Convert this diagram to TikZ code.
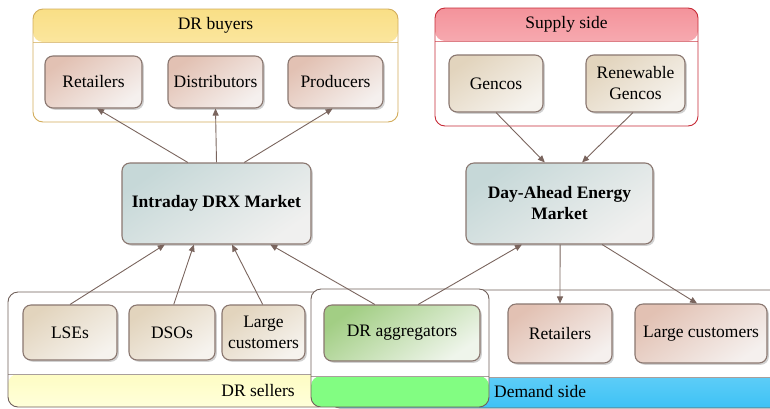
\documentclass[tikz,border=0pt]{standalone}
\usepackage{fontspec}
\setmainfont{Liberation Serif}
\usetikzlibrary{arrows.meta,calc,shadows}
\definecolor{buyerA}{HTML}{F9DF86}
\definecolor{buyerB}{HTML}{FFF6D6}
\definecolor{buyerline}{HTML}{D2AC5A}
\definecolor{supA}{HTML}{F4939B}
\definecolor{supB}{HTML}{FDE2E3}
\definecolor{supline}{HTML}{C62A36}
\definecolor{pinkA}{HTML}{E2C1B3}
\definecolor{pinkB}{HTML}{F5F0EE}
\definecolor{beigeA}{HTML}{E2D4BD}
\definecolor{beigeB}{HTML}{F6F3EE}
\definecolor{mktA}{HTML}{C6D8D8}
\definecolor{mktB}{HTML}{F0F0EF}
\definecolor{grnA}{HTML}{A2CE84}
\definecolor{grnB}{HTML}{EFF5EB}
\definecolor{ylwA}{HTML}{FCF78C}
\definecolor{ylwB}{HTML}{FFFFDA}
\definecolor{grnband}{HTML}{82FD82}
\definecolor{bluA}{HTML}{B6EBFF}
\definecolor{bluB}{HTML}{3EC2F5}
\definecolor{boxline}{HTML}{8A7770}
\definecolor{outline}{HTML}{6F5F59}
\definecolor{arrowc}{HTML}{7A655E}
\begin{document}
\begin{tikzpicture}[x=1pt,y=-1pt,
  font=\fontsize{17.5}{21}\selectfont,
  inbox/.style={draw=boxline, line width=1.1pt, rounded corners=8pt, align=center,
    inner sep=1pt, drop shadow={shadow xshift=1.8pt, shadow yshift=-1.8pt, opacity=0.18, fill=black}},
  pinkbox/.style={inbox, top color=pinkA, bottom color=pinkB, shading angle=35},
  beigebox/.style={inbox, top color=beigeA, bottom color=beigeB, shading angle=35},
  mktbox/.style={inbox, top color=mktA, bottom color=mktB, shading angle=35, font=\fontsize{17.5}{21}\selectfont\bfseries},
  grnbox/.style={inbox, top color=grnA, bottom color=grnB, shading angle=35},
  outerbox/.style={line width=0.9pt, rounded corners=10pt, fill=white, inner sep=0pt},
  conn/.style={draw=arrowc, line width=0.9pt, -{Triangle[length=7pt,width=6pt]}},
  lbl/.style={inner sep=0pt},
]
\useasboundingbox (0,0) rectangle (770,408);
\clip (0,0) rectangle (770,408);

% ---------- DR buyers ----------
\node[outerbox, draw=buyerline, minimum width=365pt, minimum height=113pt,
  path picture={
    \shade[top color=buyerA, bottom color=buyerB]
      (path picture bounding box.north west) rectangle ([yshift=-33pt]path picture bounding box.north east);
    \draw[buyerline!70, line width=0.5pt]
      ([yshift=-33pt]path picture bounding box.north west) -- ([yshift=-33pt]path picture bounding box.north east);
  }] (buyers) at (215.5,65.5) {};
\node[lbl] (buyerslbl) at ($(buyers.north)+(0,16.5)$) {DR buyers};
\node[pinkbox, minimum width=97pt, minimum height=52pt] (ret1) at (93.5,82) {Retailers};
\node[pinkbox, minimum width=95pt, minimum height=52pt] (dist) at (215.5,82) {Distributors};
\node[pinkbox, minimum width=95pt, minimum height=52pt] (prod) at (335.5,82) {Producers};

% ---------- Supply side ----------
\node[outerbox, draw=supline, minimum width=263pt, minimum height=118pt,
  path picture={
    \shade[top color=supA, bottom color=supB]
      (path picture bounding box.north west) rectangle ([yshift=-33pt]path picture bounding box.north east);
    \draw[supline!60, line width=0.5pt]
      ([yshift=-33pt]path picture bounding box.north west) -- ([yshift=-33pt]path picture bounding box.north east);
  }] (supply) at (566.5,67) {};
\node[lbl] (supplylbl) at ($(supply.north)+(0,16.5)$) {Supply side};
\node[beigebox, minimum width=94pt, minimum height=57pt] (gen) at (496,83.5) {Gencos};
\node[beigebox, minimum width=99pt, minimum height=57pt] (rgen) at (635.5,83.5) {Renewable\\Gencos};

% ---------- Markets ----------
\node[mktbox, minimum width=189pt, minimum height=81pt] (intra) at (216.5,203.5) {Intraday DRX Market};
\node[mktbox, minimum width=187pt, minimum height=81pt] (dam) at (559.5,203.5) {Day-Ahead Energy\\Market};

% ---------- Bottom containers ----------
\node[outerbox, draw=outline, minimum width=320pt, minimum height=115pt,
  path picture={
    \shade[top color=ylwA, bottom color=ylwB]
      ([yshift=33pt]path picture bounding box.south west) rectangle (path picture bounding box.south east);
    \draw[outline!60, line width=0.5pt]
      ([yshift=33pt]path picture bounding box.south west) -- ([yshift=33pt]path picture bounding box.south east);
  }] (sellers) at (168,349.5) {};
\node[lbl, anchor=east] (sellerslbl) at (295,391) {DR sellers};

\node[outerbox, draw=outline, minimum width=480pt, minimum height=118pt,
  path picture={
    \shade[top color=bluA, bottom color=bluB]
      ([yshift=31pt]path picture bounding box.south west) rectangle (path picture bounding box.south east);
    \draw[outline!60, line width=0.5pt]
      ([yshift=31pt]path picture bounding box.south west) -- ([yshift=31pt]path picture bounding box.south east);
  }] (demand) at (570,349) {};
\node[lbl, anchor=west] (demandlbl) at (494,392) {Demand side};

\node[outerbox, draw=outline, minimum width=178pt, minimum height=118pt,
  path picture={
    \fill[grnband]
      ([yshift=31pt]path picture bounding box.south west) rectangle (path picture bounding box.south east);
    \draw[outline!60, line width=0.5pt]
      ([yshift=31pt]path picture bounding box.south west) -- ([yshift=31pt]path picture bounding box.south east);
  }] (aggbox) at (400,348) {};

\node[beigebox, minimum width=94pt, minimum height=55pt] (lse) at (70,332.5) {LSEs};
\node[beigebox, minimum width=86pt, minimum height=55pt] (dso) at (172,332.5) {DSOs};
\node[beigebox, minimum width=83pt, minimum height=55pt] (lc1) at (263.5,332.5) {Large\\customers};
\node[grnbox, minimum width=156pt, minimum height=56pt] (agg) at (402,333) {DR aggregators};
\node[pinkbox, minimum width=104pt, minimum height=59pt] (ret2) at (560,333.5) {Retailers};
\node[pinkbox, minimum width=132pt, minimum height=59pt] (lc2) at (701,333.5) {Large customers};

% ---------- Connectors ----------
\draw[conn] ($(intra.north west)!0.349!(intra.north east)$) -- ($(ret1.south west)!0.536!(ret1.south east)$);
\draw[conn] ($(intra.north west)!0.5!(intra.north east)$) -- ($(dist.south west)!0.5!(dist.south east)$);
\draw[conn] ($(intra.north west)!0.646!(intra.north east)$) -- ($(prod.south west)!0.47!(prod.south east)$);

\draw[conn] ($(lse.north west)!0.5!(lse.north east)$) -- ($(intra.south west)!0.228!(intra.south east)$);
\draw[conn] ($(dso.north west)!0.52!(dso.north east)$) -- ($(intra.south west)!0.381!(intra.south east)$);
\draw[conn] ($(lc1.north west)!0.49!(lc1.north east)$) -- ($(intra.south west)!0.582!(intra.south east)$);
\draw[conn] ($(agg.north west)!0.327!(agg.north east)$) -- ($(intra.south west)!0.783!(intra.south east)$);
\draw[conn] ($(agg.north west)!0.603!(agg.north east)$) -- ($(dam.south west)!0.3!(dam.south east)$);

\draw[conn] ($(gen.south west)!0.5!(gen.south east)$) -- ($(dam.north west)!0.422!(dam.north east)$);
\draw[conn] ($(rgen.south west)!0.475!(rgen.south east)$) -- ($(dam.north west)!0.62!(dam.north east)$);

\draw[conn] ($(dam.south west)!0.503!(dam.south east)$) -- ($(ret2.north west)!0.5!(ret2.north east)$);
\draw[conn] ($(dam.south west)!0.727!(dam.south east)$) -- ($(lc2.north west)!0.47!(lc2.north east)$);
\end{tikzpicture}
\end{document}
